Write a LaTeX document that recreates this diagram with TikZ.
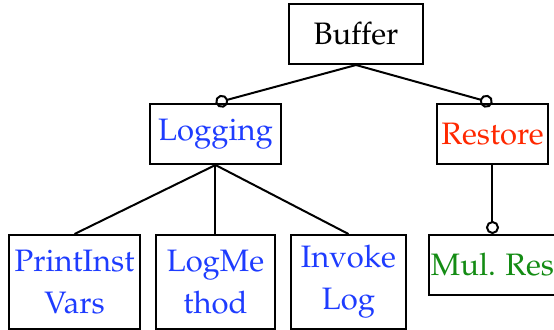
\documentclass[tikz,border=0pt]{standalone}
\usepackage[T1]{fontenc}
\usepackage{mathpazo}
\usepackage{xcolor}
\usepackage{tikz}
\usetikzlibrary{arrows.meta,positioning}

\definecolor{featblue}{RGB}{30,60,255}
\definecolor{featred}{RGB}{255,40,0}
\definecolor{featgreen}{RGB}{20,140,20}

\begin{document}
\begin{tikzpicture}[
  line width=1pt,
  feat/.style={draw, align=center, inner sep=1pt, minimum height=30pt, font=\fontsize{15.5}{21}\selectfont},
  leaf/.style={feat, minimum height=47pt},
  opt/.style={-{Circle[open,length=6.5pt]}},
]
\useasboundingbox (0,0) rectangle (277pt,-164.5pt);
\node[feat, minimum width=67pt] (buffer) at (178pt,-17pt) {Buffer};
\node[feat, minimum width=65.5pt, text=featblue, below left=19pt and 3pt of buffer] (logging) {Logging};
\node[feat, minimum width=55.5pt, text=featred, below right=19pt and 6pt of buffer] (restore) {Restore};
\node[leaf, minimum width=59.5pt, text=featblue, below=34.5pt of logging] (logmethod) {LogMe\\thod};
\node[leaf, minimum width=65.5pt, text=featblue, left=7pt of logmethod] (printinst) {PrintInst\\Vars};
\node[leaf, minimum width=57.5pt, text=featblue, right=7pt of logmethod] (invokelog) {Invoke\\Log};
\node[feat, minimum width=63pt, text=featgreen, right=10.5pt of invokelog.north east, anchor=north west] (mulres) {Mul. Res};
\draw[opt] (buffer.south) -- (logging.north);
\draw[opt] (buffer.south) -- (restore.north);
\draw (logging.south) -- (printinst.north);
\draw (logging.south) -- (logmethod.north);
\draw (logging.south) -- (invokelog.north);
\draw[opt] (restore.south) -- (restore.south |- mulres.north);
\end{tikzpicture}
\end{document}
